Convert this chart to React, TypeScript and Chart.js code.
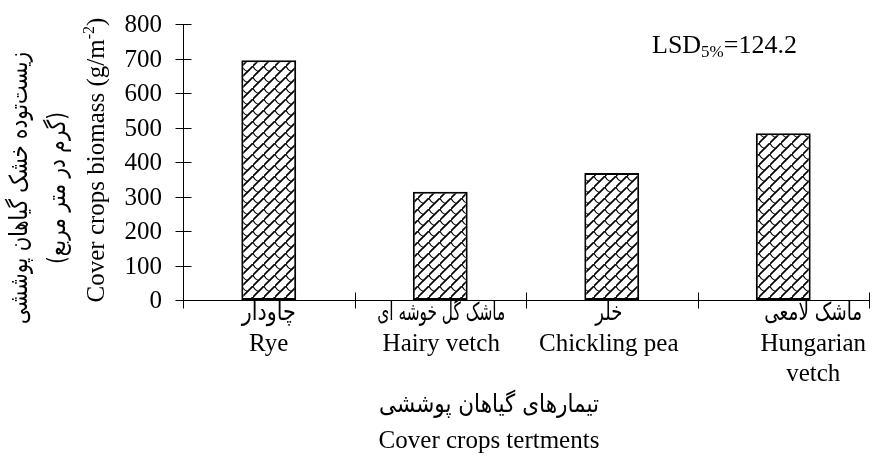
import React, { useEffect, useRef } from "react";
import { Chart, registerables } from "chart.js";

Chart.register(...registerables);

// ---- data ----
const categories = ["Rye", "Hairy vetch", "Chickling pea", "Hungarian vetch"];
const persianLabels = ["چاودار", "ماشک گل خوشه ای", "خلر", "ماشک لامعی"];
const englishLabels = [["Rye"], ["Hairy vetch"], ["Chickling pea"], ["Hungarian", "vetch"]];
const biomass = [695, 314, 368, 483];
const yMin = 0;
const yMax = 800;
const yStep = 100;
const yTitleEn = "Cover crops biomass (g/m";
const yTitleSup = "-2";
const yTitleFa1 = "زیست‌توده خشک گیاهان پوششی";
const yTitleFa2 = "(گرم در متر مربع)";
const xTitleFa = "تیمارهای گیاهان پوششی";
const xTitleEn = "Cover crops tertments";
const lsdMain = "LSD";
const lsdSub = "5%";
const lsdValue = "=124.2";

// ---- style ----
const SERIF = '"Liberation Serif", "Times New Roman", serif';
const FA = '"DejaVu Sans", sans-serif';

function makePattern(): CanvasPattern | string {
  const s = 11;
  const c = document.createElement("canvas");
  c.width = s;
  c.height = s;
  const g = c.getContext("2d");
  if (!g) return "#fff";
  g.fillStyle = "#fff";
  g.fillRect(0, 0, s, s);
  g.strokeStyle = "#000";
  g.lineCap = "square";
  g.lineWidth = 1.7;
  g.beginPath();
  g.moveTo(-1, s + 1);
  g.lineTo(s + 1, -1);
  g.stroke();
  g.lineWidth = 1.2;
  g.beginPath();
  g.moveTo(0, 0);
  g.quadraticCurveTo(s * 0.15, s * 0.4, s / 2, s / 2);
  g.stroke();
  const p = g.createPattern(c, "repeat");
  return p || "#fff";
}

function txt(
  ctx: CanvasRenderingContext2D,
  text: string,
  x: number,
  y: number,
  font: string,
  align: CanvasTextAlign,
  baseline: CanvasTextBaseline = "middle"
) {
  ctx.save();
  ctx.font = font;
  ctx.textAlign = align;
  ctx.textBaseline = baseline;
  ctx.fillStyle = "#000";
  ctx.fillText(text, x, y);
  ctx.restore();
}

function fitText(
  ctx: CanvasRenderingContext2D,
  text: string,
  x: number,
  y: number,
  font: string,
  targetW: number,
  rot = 0
) {
  ctx.save();
  ctx.font = font;
  const w = ctx.measureText(text).width || 1;
  ctx.translate(x, y);
  if (rot) ctx.rotate(rot);
  ctx.scale(targetW / w, 1);
  ctx.textAlign = "center";
  ctx.textBaseline = "middle";
  ctx.fillStyle = "#000";
  ctx.fillText(text, 0, 0);
  ctx.restore();
}

const decorPlugin = {
  id: "decor",
  afterDraw(chart: any) {
    const ctx: CanvasRenderingContext2D = chart.ctx;
    const xs = chart.scales.x;
    const ys = chart.scales.y;
    const area = chart.chartArea;
    ctx.save();
    ctx.strokeStyle = "#000";
    ctx.lineWidth = 1;
    // y cross ticks + labels
    const ax = Math.round(area.left) + 0.5;
    ys.ticks.forEach((t: any) => {
      const py = Math.round(ys.getPixelForValue(t.value)) + 0.5;
      ctx.beginPath();
      ctx.moveTo(ax - 8, py);
      ctx.lineTo(ax + 8, py);
      ctx.stroke();
      txt(ctx, String(t.value), 162, py + 1, `25px ${SERIF}`, "right");
    });
    // x cross ticks at category boundaries
    const n = categories.length;
    const half = (xs.getPixelForValue(1) - xs.getPixelForValue(0)) / 2;
    const ay = Math.round(area.bottom) + 0.5;
    for (let i = 0; i <= n; i++) {
      const px =
        i < n ? xs.getPixelForValue(i) - half : xs.getPixelForValue(n - 1) + half;
      const rx = Math.round(px) + 0.5;
      ctx.beginPath();
      ctx.moveTo(rx, ay - 8);
      ctx.lineTo(rx, ay + 8);
      ctx.stroke();
    }
    ctx.restore();

    // x labels
    const labelShift = [0, 1, -3, 30];
    const faWidths = [54, 128, 27, 98];
    for (let i = 0; i < n; i++) {
      const cx = xs.getPixelForValue(i) + labelShift[i];
      fitText(ctx, persianLabels[i], cx, 313, `25px ${FA}`, faWidths[i]);
      englishLabels[i].forEach((line, k) => {
        txt(ctx, line, cx, 344 + k * 30, `25px ${SERIF}`, "center");
      });
    }
    // x title
    const tcx = 489;
    fitText(ctx, xTitleFa, tcx, 405, `25px ${FA}`, 220);
    txt(ctx, xTitleEn, tcx, 441, `25px ${SERIF}`, "center");

    // y titles (rotated)
    const cy = (area.top + area.bottom) / 2;
    ctx.save();
    ctx.translate(97, cy - 2);
    ctx.rotate(-Math.PI / 2);
    ctx.fillStyle = "#000";
    ctx.textBaseline = "middle";
    ctx.textAlign = "left";
    const fMain = `25px ${SERIF}`;
    const fSup = `16px ${SERIF}`;
    ctx.font = fMain;
    const w1 = ctx.measureText(yTitleEn).width;
    const w3 = ctx.measureText(")").width;
    ctx.font = fSup;
    const w2 = ctx.measureText(yTitleSup).width;
    const total = w1 + w2 + w3;
    let x0 = -total / 2;
    ctx.font = fMain;
    ctx.fillText(yTitleEn, x0, 0);
    x0 += w1;
    ctx.font = fSup;
    ctx.fillText(yTitleSup, x0, -7);
    x0 += w2;
    ctx.font = fMain;
    ctx.fillText(")", x0, 0);
    ctx.restore();
    fitText(ctx, yTitleFa1, 20, cy + 26, `25px ${FA}`, 272, -Math.PI / 2);
    fitText(ctx, yTitleFa2, 58, cy + 26, `25px ${FA}`, 152, -Math.PI / 2);

    // LSD annotation
    let lx = 652;
    const by = 53;
    ctx.font = `26px ${SERIF}`;
    const wl = ctx.measureText(lsdMain).width;
    txt(ctx, lsdMain, lx, by, `26px ${SERIF}`, "left", "alphabetic");
    lx += wl;
    ctx.font = `17px ${SERIF}`;
    const ws = ctx.measureText(lsdSub).width;
    txt(ctx, lsdSub, lx, by + 4, `17px ${SERIF}`, "left", "alphabetic");
    lx += ws;
    txt(ctx, lsdValue, lx, by, `26px ${SERIF}`, "left", "alphabetic");
  },
};

export default function App() {
  const ref = useRef<HTMLCanvasElement>(null);
  useEffect(() => {
    document.body.style.margin = "0";
    const canvas = ref.current;
    if (!canvas) return;
    const pattern = makePattern();
    const chart = new Chart(canvas, {
      type: "bar",
      data: {
        labels: categories,
        datasets: [
          {
            data: biomass,
            backgroundColor: pattern as any,
            borderColor: "#000",
            borderWidth: 2,
            borderSkipped: false,
            barPercentage: 0.32,
            categoryPercentage: 1,
          },
        ],
      },
      options: {
        responsive: false,
        animation: false,
        devicePixelRatio: 1,
        layout: { padding: { top: 24, right: 9, left: 0, bottom: 0 } },
        plugins: {
          legend: { display: false },
          tooltip: { enabled: false },
          title: { display: false },
        },
        scales: {
          x: {
            type: "category",
            grid: { display: false },
            border: { display: true, color: "#000", width: 1 },
            ticks: { display: false },
            afterFit: (s: any) => {
              s.height = 163;
            },
          },
          y: {
            min: yMin,
            max: yMax,
            ticks: { stepSize: yStep, display: false },
            grid: { display: false },
            border: { display: true, color: "#000", width: 1 },
            afterFit: (s: any) => {
              s.width = 183;
            },
          },
        },
      },
      plugins: [decorPlugin],
    });
    return () => chart.destroy();
  }, []);
  return (
    <div style={{ width: 878, height: 463, background: "#fff" }}>
      <canvas ref={ref} width={878} height={463} style={{ display: "block" }} />
    </div>
  );
}
